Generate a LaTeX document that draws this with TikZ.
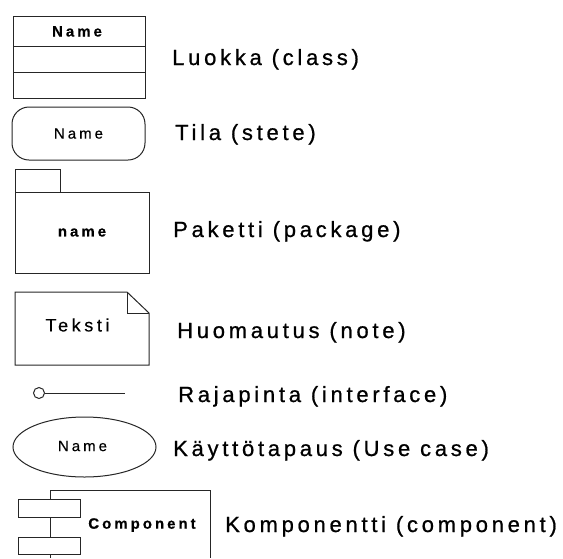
\documentclass[tikz,border=0pt]{standalone}
\usepackage{fontspec}
\newfontfamily\umlfont{Liberation Sans}[LetterSpace=20, FakeBold=0.4]
\newfontfamily\capfont{Liberation Sans}[LetterSpace=17, FakeBold=0.8]
\usetikzlibrary{shapes.geometric}

\begin{document}
\begin{tikzpicture}[
    x=1pt, y=-1pt,
    umlbox/.style={
        rectangle, draw=black!85, line width=1pt, fill=white,
        inner sep=0pt, font=\umlfont\fontsize{15}{18}\selectfont
    },
    umlline/.style={draw=black!85, line width=1pt},
    boldtag/.style={inner sep=0pt, font=\umlfont\bfseries\fontsize{15}{18}\selectfont},
    caption/.style={
        anchor=base west, inner sep=0pt,
        font=\capfont\fontsize{22}{26}\selectfont
    }
]
\useasboundingbox (0,0) rectangle (563,558);

% Class with three compartments
\node[umlbox, minimum width=132pt, minimum height=82pt] (class) at (79,57) {};
\draw[umlline] (13,46) -- (145,46);
\draw[umlline] (13,72) -- (145,72);
\node[boldtag, anchor=base] (classname) at (77,36.5) {Name};

% State
\node[umlbox, rounded corners=17pt, minimum width=133pt, minimum height=53pt]
    (state) at (78.5,133.5) {Name};

% Package: tab on top of the body
\node[umlbox, minimum width=45pt, minimum height=23pt] (pkgtab) at (37.5,180.5) {};
\node[umlbox, minimum width=134pt, minimum height=81pt,
      font=\umlfont\bfseries\fontsize{15}{18}\selectfont] (package) at (82,232.5) {name};

% Note with folded corner
\draw[umlline] (15,292) -- (127,292) -- (149,313) -- (149,365) -- (15,365) -- cycle;
\draw[umlline] (127,292) |- (149,313);
\node[inner sep=0pt, font=\umlfont\fontsize{18}{21}\selectfont] (notetext) at (77.5,325) {Teksti};

% Interface: lollipop
\node[umlbox, circle, minimum size=11pt] (iface) at (39,393) {};
\coordinate (ifaceend) at (125,393);
\draw[umlline] (iface) -- (ifaceend);

% Use case
\node[umlbox, ellipse, minimum width=143pt, minimum height=60pt] (usecase) at (84.5,447) {};
\node[inner sep=0pt, font=\umlfont\fontsize{15}{18}\selectfont] (ucname) at (82.5,446) {Name};

% Component with two ports on its left edge
\draw[umlline] (50,558) -- (50,490) -- (210,490) -- (210,558);
\node[umlbox, minimum width=62pt, minimum height=18pt] (port1) at (49,508) {};
\node[umlbox, minimum width=62pt, minimum height=17pt] (port2) at (49,545.5) {};
\node[boldtag] (compname) at (142,525) {Component};

% Captions
\node[caption] (lclass)   at (172,65)  {Luokka (class)};
\node[caption] (lstate)   at (175,140) {Tila (stete)};
\node[caption] (lpackage) at (173,237) {Paketti (package)};
\node[caption] (lnote)    at (177,338) {Huomautus (note)};
\node[caption] (liface)   at (178,402) {Rajapinta (interface)};
\node[caption] (lusecase) at (173,456) {Käyttötapaus (Use case)};
\node[caption] (lcomp)    at (225,532) {Komponentti (component)};

\end{tikzpicture}
\end{document}
